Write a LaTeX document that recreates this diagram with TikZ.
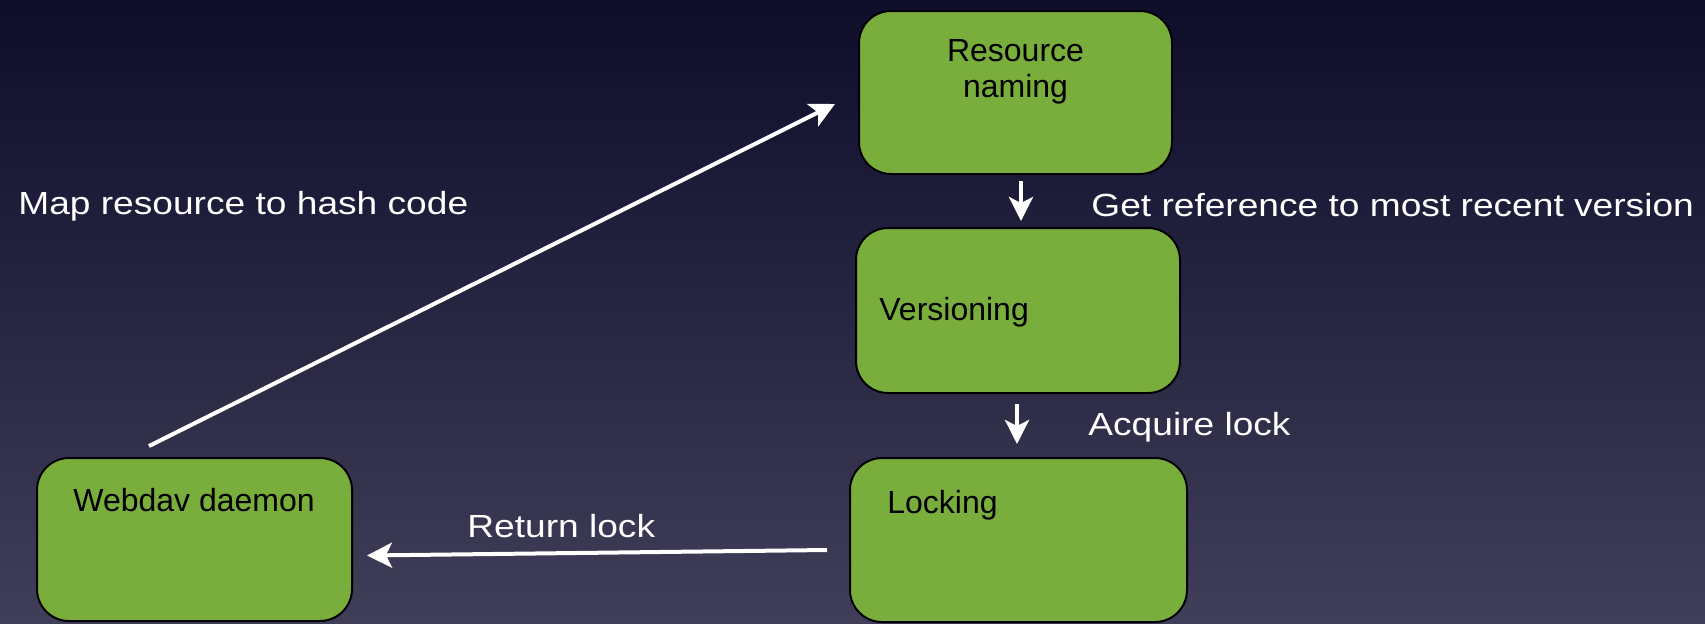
\documentclass[tikz,border=0pt]{standalone}
\usepackage{fontspec}
\setmainfont{Liberation Sans}
\newfontfamily\labelfont[FakeStretch=1.16]{Liberation Sans}
\usetikzlibrary{arrows.meta,calc}
\definecolor{slidetop}{RGB}{14,13,42}
\definecolor{slidebottom}{RGB}{64,62,88}
\definecolor{stagegreen}{RGB}{121,173,60}
\tikzset{
    stage/.style={draw=black, line width=1pt, fill=stagegreen, rounded corners=16pt, inner sep=0pt},
    stagetext/.style={inner sep=0pt, font=\fontsize{16}{18}\selectfont},
    note/.style={inner sep=0pt, text=white, font=\labelfont\fontsize{16}{19}\selectfont},
    flow/.style={draw=white, line width=2pt, -{Stealth[length=12.5pt,width=12.5pt,inset=3pt]}},
    handoff/.style={draw=white, line width=2pt, -{Stealth[length=12pt,width=12pt,inset=3pt]}}
}
\begin{document}
\begin{tikzpicture}[x=0.5pt, y=-0.5pt]
    \useasboundingbox (0, 0) rectangle (1705, 623);
    \shade[top color=slidetop, bottom color=slidebottom] (0, 0) rectangle (1705, 623);

    \node[stage, minimum width=156.5pt, minimum height=81.5pt] (naming) at (1015.5, 92.5) {};
    \node[stage, minimum width=162pt, minimum height=82.5pt] (versioning) at (1018, 310.5) {};
    \node[stage, minimum width=168.5pt, minimum height=82pt] (locking) at (1018.5, 540) {};
    \node[stage, minimum width=157.5pt, minimum height=81.5pt] (webdav) at (194.5, 539.5) {};

    \node[stagetext, align=center, anchor=north] (naming txt) at (1015.5, 39) {Resource\\naming};
    \node[stagetext, anchor=base west] (versioning txt) at (879, 320) {Versioning};
    \node[stagetext, anchor=base west] (locking txt) at (887, 513) {Locking};
    \node[stagetext, anchor=base west] (webdav txt) at (73, 511) {Webdav daemon};

    \node[note, anchor=base west] (hash note) at (18, 214) {Map resource to hash code};
    \node[note, anchor=base west] (ref note) at (1091, 216) {Get reference to most recent version};
    \node[note, anchor=base west] (acquire note) at (1088, 435) {Acquire lock};
    \node[note, anchor=base west] (return note) at (467, 537) {Return lock};

    \draw[flow] ($(webdav.north west)+(113, -11)$) -- ($(naming.west)+(-23, 11.5)$);
    \draw[flow] ($(locking.west)+(-22, 10)$) -- ($(webdav.east)+(14, 16)$);
    \draw[handoff] ($(naming.south)+(5.5, 6)$) -- ($(versioning.north)+(3, -6)$);
    \draw[handoff] ($(versioning.south)+(-1, 10)$) -- ($(locking.north)+(-1.5, -13)$);
\end{tikzpicture}
\end{document}
